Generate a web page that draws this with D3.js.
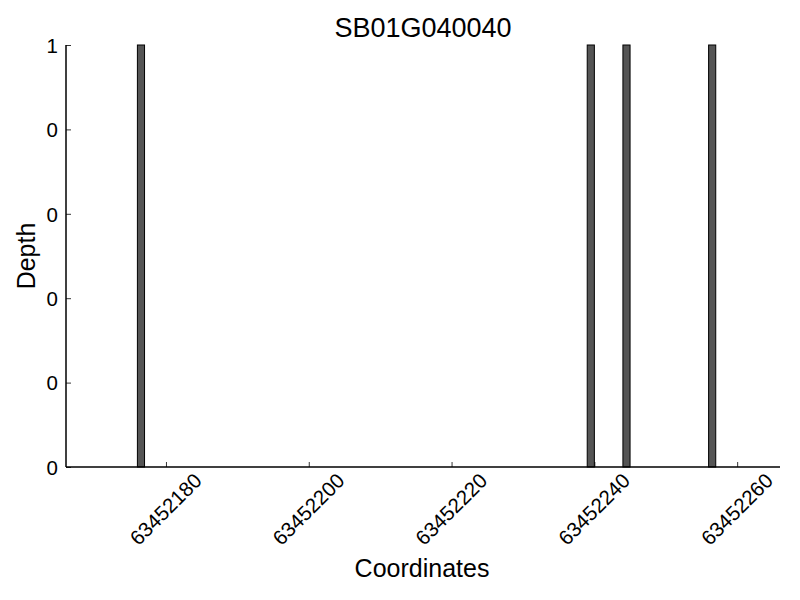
<!DOCTYPE html>
<html>
<head>
<meta charset="utf-8">
<script src="https://cdn.jsdelivr.net/npm/d3@7"></script>
<style>
  body { margin: 0; background: #fff; }
  text { font-family: "Liberation Sans", Arial, sans-serif; fill: #000; }
</style>
</head>
<body>
<div id="chart"></div>
<script>
// data
var positions = [63452176, 63452239, 63452244, 63452256];
var depths = [1, 1, 1, 1];
var xTicks = [63452180, 63452200, 63452220, 63452240, 63452260];
var yTicks = [0, 0.2, 0.4, 0.6, 0.8, 1];
var yTickLabels = ["0", "0", "0", "0", "0", "1"];
var xDomain = [63452166, 63452266];
var barWidth = 1;

var W = 800, H = 600;
var margin = {top: 45, right: 20, bottom: 133, left: 66},
    width = W - margin.left - margin.right,
    height = H - margin.top - margin.bottom;

var svg = d3.select("#chart")
    .append("svg")
    .attr("width", W)
    .attr("height", H)
    .append("g")
    .attr("transform", "translate(" + margin.left + "," + margin.top + ")");

var x = d3.scaleLinear().domain(xDomain).range([0, width]);
var y = d3.scaleLinear().domain([0, 1]).range([height, 0]);

// bars (edge aligned, one unit wide)
svg.selectAll(".bar")
    .data(positions)
    .enter()
    .append("rect")
    .attr("class", "bar")
    .attr("x", function(d) { return x(d); })
    .attr("y", function(d, i) { return y(depths[i]); })
    .attr("width", function(d) { return x(d + barWidth) - x(d); })
    .attr("height", function(d, i) { return y(0) - y(depths[i]); })
    .attr("fill", "#555555")
    .attr("stroke", "#000")
    .attr("stroke-width", 1);

// y axis, ticks pointing inward
var yAxis = svg.append("g")
    .call(d3.axisLeft(y).tickValues(yTicks).tickSizeInner(-5).tickSizeOuter(0)
        .tickPadding(8)
        .tickFormat(function(d, i) { return yTickLabels[i]; }));
yAxis.select(".domain").remove();
yAxis.selectAll(".tick line").attr("stroke", "#000").attr("stroke-width", 0.8);
yAxis.selectAll(".tick text")
    .style("font-size", "20.5px")
    .attr("x", -8)
    .attr("dy", "0.36em");

// x axis, ticks pointing inward, labels rotated 45
var xAxis = svg.append("g")
    .attr("transform", "translate(0," + height + ")")
    .call(d3.axisBottom(x).tickValues(xTicks).tickSizeInner(-5).tickSizeOuter(0)
        .tickFormat(d3.format("d")));
xAxis.select(".domain").remove();
xAxis.selectAll(".tick line").attr("stroke", "#000").attr("stroke-width", 0.8);
xAxis.selectAll(".tick text")
    .style("font-size", "20.5px")
    .attr("y", 0)
    .attr("dy", null)
    .attr("text-anchor", "middle")
    .attr("dominant-baseline", "central")
    .attr("transform", "translate(-1,42) rotate(-45)");

// spines: left and bottom only
svg.append("line")
    .attr("x1", 0).attr("x2", 0)
    .attr("y1", 0).attr("y2", height)
    .attr("stroke", "#000").attr("stroke-width", 1.5);
svg.append("line")
    .attr("x1", 0).attr("x2", width)
    .attr("y1", height).attr("y2", height)
    .attr("stroke", "#000").attr("stroke-width", 1.5);

// title and axis labels
svg.append("text")
    .attr("x", width / 2)
    .attr("y", -8)
    .attr("text-anchor", "middle")
    .style("font-size", "27px")
    .text("SB01G040040");

svg.append("text")
    .attr("x", width / 2 - 1)
    .attr("y", height + 110)
    .attr("text-anchor", "middle")
    .style("font-size", "25px")
    .text("Coordinates");

svg.append("text")
    .attr("transform", "translate(" + (-31) + "," + (height / 2) + ") rotate(-90)")
    .attr("text-anchor", "middle")
    .style("font-size", "25px")
    .text("Depth");
</script>
</body>
</html>
